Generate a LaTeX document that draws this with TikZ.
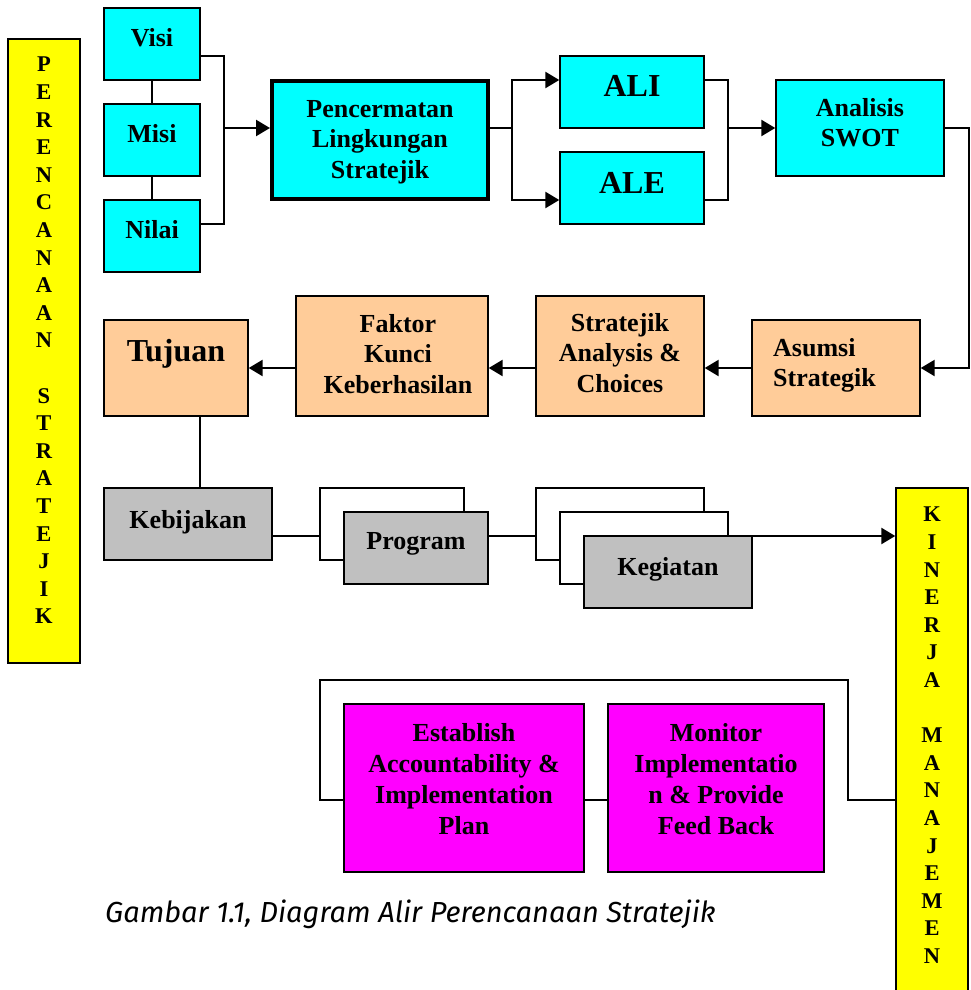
\documentclass[tikz,border=0pt]{standalone}
\usepackage{fontspec}
\setmainfont{Liberation Serif}
\newfontfamily\capfont{Fira Sans}
\usepackage{tikz}
\usetikzlibrary{arrows.meta, positioning}
\usepackage{xcolor}
\definecolor{peach}{RGB}{255,204,153}
\definecolor{boxgray}{RGB}{192,192,192}
\definecolor{boxcyan}{RGB}{0,255,255}
\definecolor{boxpink}{RGB}{255,0,255}
\definecolor{boxyellow}{RGB}{255,255,0}

\begin{document}
\begin{tikzpicture}[x=1pt, y=-1pt,
    box/.style={draw, line width=1.4pt, rectangle, inner sep=0pt},
    cyanbox/.style={box, fill=boxcyan},
    peachbox/.style={box, fill=peach},
    graybox/.style={box, fill=boxgray},
    pinkbox/.style={box, fill=boxpink},
    framebox/.style={box, fill=white},
    yellowbar/.style={box, fill=boxyellow},
    txt/.style={inner sep=0pt, align=center, anchor=north, font=\bfseries\fontsize{26}{30.5}\selectfont},
    bigtxt/.style={txt, font=\bfseries\fontsize{32}{36}\selectfont},
    bartxt/.style={txt, font=\bfseries\fontsize{22.5}{27.6}\selectfont},
    conn/.style={line width=1.6pt},
    arrow/.style={line width=2.4pt, -{Triangle[length=14pt, width=16pt]}}]
    \useasboundingbox (0,0) rectangle (970,990);
    \clip (0,0) rectangle (970,990);

    % Bar for Perencanaan Stratejik
    \node[yellowbar, minimum width=72pt, minimum height=624pt] (perencanaan) at (44,351) {};
    \node[bartxt] (perencanaan-t) at (44,57) {P\\E\\R\\E\\N\\C\\A\\N\\A\\A\\N\\[27.6pt]S\\T\\R\\A\\T\\E\\J\\I\\K};

    % Boxes for Visi, Misi, Nilai
    \node[cyanbox, minimum width=96pt, minimum height=72pt] (visi) at (152,44) {};
    \node[txt] (visi-t) at (152,28) {Visi};
    \node[cyanbox, minimum width=96pt, minimum height=72pt] (misi) at (152,140) {};
    \node[txt] (misi-t) at (152,124) {Misi};
    \node[cyanbox, minimum width=96pt, minimum height=72pt] (nilai) at (152,236) {};
    \node[txt] (nilai-t) at (152,220) {Nilai};

    % Box for Pencermatan Lingkungan Stratejik
    \node[cyanbox, line width=4pt, minimum width=216pt, minimum height=118pt] (pencermatan) at (380,140) {};
    \node[txt] (pencermatan-t) at (380,100) {Pencermatan\\Lingkungan\\Stratejik};

    % Boxes for ALI and ALE
    \node[cyanbox, minimum width=144pt, minimum height=72pt] (ali) at (632,92) {};
    \node[bigtxt] (ali-t) at (632,75) {ALI};
    \node[cyanbox, minimum width=144pt, minimum height=72pt] (ale) at (632,188) {};
    \node[bigtxt] (ale-t) at (632,172) {ALE};

    % Box for Analisis SWOT
    \node[cyanbox, minimum width=168pt, minimum height=96pt] (analisis) at (860,128) {};
    \node[txt] (analisis-t) at (860,98) {Analisis\\SWOT};

    % Second row
    \node[peachbox, minimum width=168pt, minimum height=96pt] (asumsi) at (836,368) {};
    \node[txt, anchor=north west, align=left] (asumsi-t) at (773,338) {Asumsi\\Strategik};
    \node[peachbox, minimum width=168pt, minimum height=120pt] (stratejik) at (620,356) {};
    \node[txt] (stratejik-t) at (620,313) {Stratejik\\Analysis \&\\Choices};
    \node[peachbox, minimum width=192pt, minimum height=120pt] (faktor) at (392,356) {};
    \node[txt] (faktor-t) at (398,314) {Faktor\\Kunci\\Keberhasilan};
    \node[peachbox, minimum width=144pt, minimum height=96pt] (tujuan) at (176,368) {};
    \node[bigtxt] (tujuan-t) at (176,339) {Tujuan};

    % Third row
    \node[graybox, minimum width=168pt, minimum height=72pt] (kebijakan) at (188,524) {};
    \node[txt] (kebijakan-t) at (188,510) {Kebijakan};
    \node[framebox, minimum width=144pt, minimum height=72pt] (progback) at (392,524) {};
    \node[graybox, minimum width=144pt, minimum height=72pt] (program) at (416,548) {};
    \node[txt] (program-t) at (416,532) {Program};
    \node[framebox, minimum width=168pt, minimum height=72pt] (kegback) at (620,524) {};
    \node[framebox, minimum width=168pt, minimum height=72pt] (kegmid) at (644,548) {};
    \node[graybox, minimum width=168pt, minimum height=72pt] (kegiatan) at (668,572) {};
    \node[txt] (kegiatan-t) at (668,557) {Kegiatan};

    % Bar for Kinerja Manajemen
    \node[yellowbar, minimum width=72pt, minimum height=512pt] (kinerja) at (932,744) {};
    \node[bartxt] (kinerja-t) at (932,507) {K\\I\\N\\E\\R\\J\\A\\[27.6pt]M\\A\\N\\A\\J\\E\\M\\E\\N};

    % Bottom row
    \node[pinkbox, minimum width=240pt, minimum height=168pt] (establish) at (464,788) {};
    \node[txt, font=\bfseries\fontsize{26}{31}\selectfont] (establish-t) at (464,723) {Establish\\Accountability \&\\Implementation\\Plan};
    \node[pinkbox, minimum width=216pt, minimum height=168pt] (monitor) at (716,788) {};
    \node[txt, font=\bfseries\fontsize{26}{31}\selectfont] (monitor-t) at (716,723) {Monitor\\Implementatio\\n \& Provide\\Feed Back};

    % Caption
    \node[inner sep=0pt, anchor=base west, font=\capfont\itshape\fontsize{29}{34}\selectfont] (caption) at (105,922) {Gambar 1.1, Diagram Alir Perencanaan Stratejik};

    % Connectors
    \coordinate (vmn) at (224,128);
    \coordinate (split) at (512,128);
    \coordinate (merge) at (728,128);
    \coordinate (loopR) at (848,800);
    \coordinate (loopL) at (320,800);
    \draw[conn] (visi) -- (misi);
    \draw[conn] (misi) -- (nilai);
    \draw[conn] ([yshift=-12pt]visi.east) -| (vmn) |- ([yshift=12pt]nilai.east);
    \draw[arrow] (vmn) -- (vmn -| pencermatan.west);
    \draw[conn] (split -| pencermatan.east) -- (split);
    \draw[arrow] (split) |- ([yshift=12pt]ali.west);
    \draw[arrow] (split) |- ([yshift=-12pt]ale.west);
    \draw[conn] ([yshift=12pt]ali.east) -| (merge) |- ([yshift=-12pt]ale.east);
    \draw[arrow] (merge) -- (analisis.west);
    \draw[arrow] (analisis.east) -- ++(24,0) |- (asumsi.east);
    \draw[arrow] (asumsi.west) -- (asumsi.west -| stratejik.east);
    \draw[arrow] (stratejik.west |- asumsi.west) -- (faktor.east |- asumsi.west);
    \draw[arrow] (faktor.west |- asumsi.west) -- (tujuan.east);
    \draw[conn] ([xshift=24pt]tujuan.south) -- ([xshift=24pt]tujuan.south |- kebijakan.north);
    \draw[line width=2.4pt] ([yshift=-12pt]kebijakan.east) -- ([yshift=-12pt]progback.west);
    \draw[line width=2.4pt] ([yshift=12pt]program.east) -- ([yshift=-12pt]kegback.west);
    \draw[arrow] ([yshift=12pt]kegmid.east) -- ([yshift=12pt]kegmid.east -| kinerja.west);
    \draw[conn] (kinerja.west |- loopR) -- (loopR) -- ++(0,-120) -| (loopL) -- (loopL -| establish.west);
    \draw[conn] (loopL -| establish.east) -- (loopL -| monitor.west);
\end{tikzpicture}
\end{document}
